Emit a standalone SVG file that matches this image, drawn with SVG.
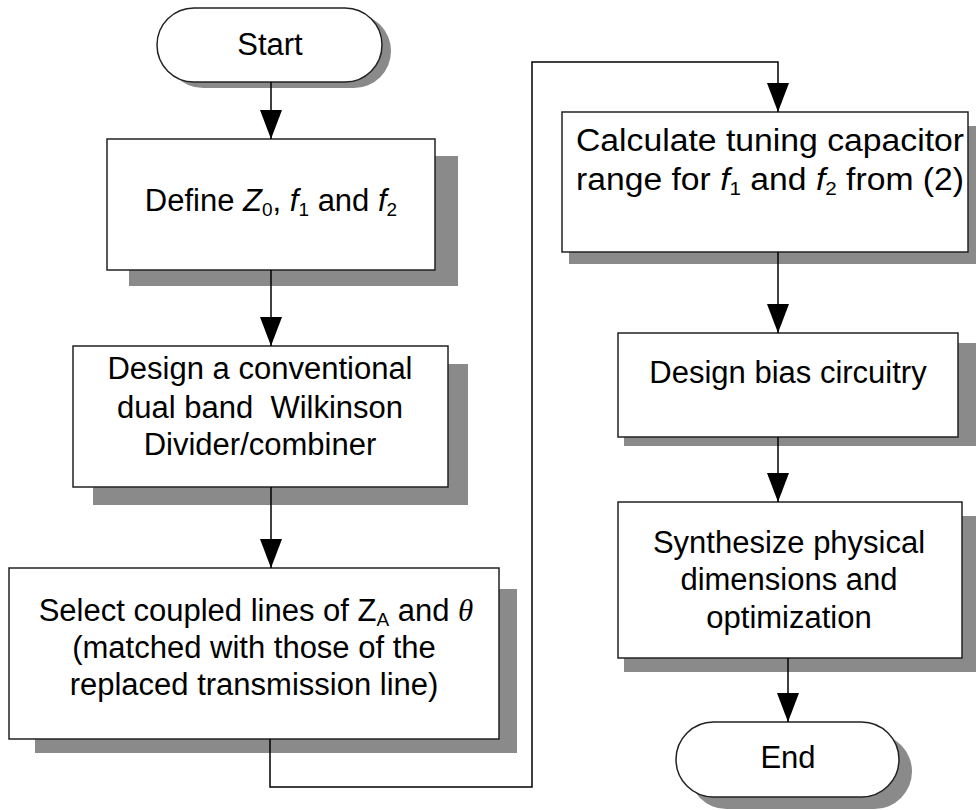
<svg xmlns="http://www.w3.org/2000/svg" width="976" height="810" viewBox="0 0 976 810">
  <style>
    .shadow { fill: #8a8a8a; stroke: none; }
    .box { fill: #ffffff; stroke: #222222; stroke-width: 1.5; }
    .label { font-family: "Liberation Sans", Arial, Helvetica, sans-serif; font-size: 31px; fill: #000000; text-anchor: middle; }
    .it { font-style: italic; }
    .sub { font-size: 19px; }
    .theta { font-family: "Liberation Serif", "Times New Roman", serif; font-style: italic; }
    .wire { fill: none; stroke: #000000; stroke-width: 1.5; }
  </style>
  <defs>
    <marker id="arrow" viewBox="0 -11 29 22" markerWidth="29" markerHeight="22" refX="29" refY="0" orient="auto" markerUnits="userSpaceOnUse">
      <path d="M0,-11 L29,0 L0,11 Z" fill="#000000"/>
    </marker>
  </defs>

  <rect width="976" height="810" fill="#ffffff"/>

  <!-- Start terminator -->
  <g id="start">
    <rect class="shadow" x="166" y="14" width="225" height="74" rx="37" ry="37"/>
    <rect class="box" x="157" y="8" width="225" height="74" rx="37" ry="37"/>
    <text class="label" x="270" y="55">Start</text>
  </g>

  <!-- Step: define parameters -->
  <g id="define">
    <rect class="shadow" x="129" y="156" width="329" height="130"/>
    <rect class="box" x="107" y="139" width="328" height="131"/>
    <text class="label" x="271" y="211">Define <tspan class="it">Z</tspan><tspan class="sub" dy="5">0</tspan><tspan dy="-5">, </tspan><tspan class="it">f</tspan><tspan class="sub" dy="5">1</tspan><tspan dy="-5"> and </tspan><tspan class="it">f</tspan><tspan class="sub" dy="5">2</tspan></text>
  </g>

  <!-- Step: conventional divider -->
  <g id="conventional">
    <rect class="shadow" x="93" y="364" width="375" height="141"/>
    <rect class="box" x="73" y="346" width="375" height="141"/>
    <text class="label" x="260" y="379">Design a conventional</text>
    <text class="label" x="260" y="418" xml:space="preserve">dual band  Wilkinson</text>
    <text class="label" x="260" y="455">Divider/combiner</text>
  </g>

  <!-- Step: coupled lines -->
  <g id="coupled">
    <rect class="shadow" x="35" y="589" width="482" height="164"/>
    <rect class="box" x="9" y="568" width="490" height="171"/>
    <text class="label" x="256" y="621">Select coupled lines of Z<tspan class="sub" dy="5">A</tspan><tspan dy="-5"> and </tspan><tspan class="theta">θ</tspan></text>
    <text class="label" x="254" y="658">(matched with those of the</text>
    <text class="label" x="254" y="695">replaced transmission line)</text>
  </g>

  <!-- Step: tuning capacitor range -->
  <g id="capacitor">
    <rect class="shadow" x="569" y="126" width="407" height="138"/>
    <rect class="box" x="562" y="112" width="406" height="140"/>
    <text class="label" x="770" y="151" textLength="388" lengthAdjust="spacingAndGlyphs">Calculate tuning capacitor</text>
    <text class="label" x="770" y="190" textLength="388" lengthAdjust="spacingAndGlyphs">range for <tspan class="it">f</tspan><tspan class="sub" dy="5">1</tspan><tspan dy="-5"> and </tspan><tspan class="it">f</tspan><tspan class="sub" dy="5">2</tspan><tspan dy="-5"> from (2)</tspan></text>
  </g>

  <!-- Step: bias circuitry -->
  <g id="bias">
    <rect class="shadow" x="624" y="343" width="352" height="103"/>
    <rect class="box" x="618" y="333" width="340" height="104"/>
    <text class="label" x="788" y="383">Design bias circuitry</text>
  </g>

  <!-- Step: synthesis -->
  <g id="synthesize">
    <rect class="shadow" x="624" y="516" width="352" height="156"/>
    <rect class="box" x="618" y="502" width="344" height="156"/>
    <text class="label" x="789" y="553">Synthesize physical</text>
    <text class="label" x="789" y="590">dimensions and</text>
    <text class="label" x="789" y="628">optimization</text>
  </g>

  <!-- End terminator -->
  <g id="end">
    <rect class="shadow" x="689" y="734" width="223" height="75" rx="37.5" ry="37.5"/>
    <rect class="box" x="676" y="722" width="223" height="75" rx="37.5" ry="37.5"/>
    <text class="label" x="788" y="768">End</text>
  </g>

  <!-- Connectors -->
  <g id="connectors">
    <path class="wire" d="M271,82 V139" marker-end="url(#arrow)"/>
    <path class="wire" d="M271,270 V346" marker-end="url(#arrow)"/>
    <path class="wire" d="M271,487 V568" marker-end="url(#arrow)"/>
    <path class="wire" d="M270,739 V787 H532 V62 H778 V112" marker-end="url(#arrow)"/>
    <path class="wire" d="M778,252 V333" marker-end="url(#arrow)"/>
    <path class="wire" d="M778,437 V502" marker-end="url(#arrow)"/>
    <path class="wire" d="M788,658 V722" marker-end="url(#arrow)"/>
  </g>
</svg>
